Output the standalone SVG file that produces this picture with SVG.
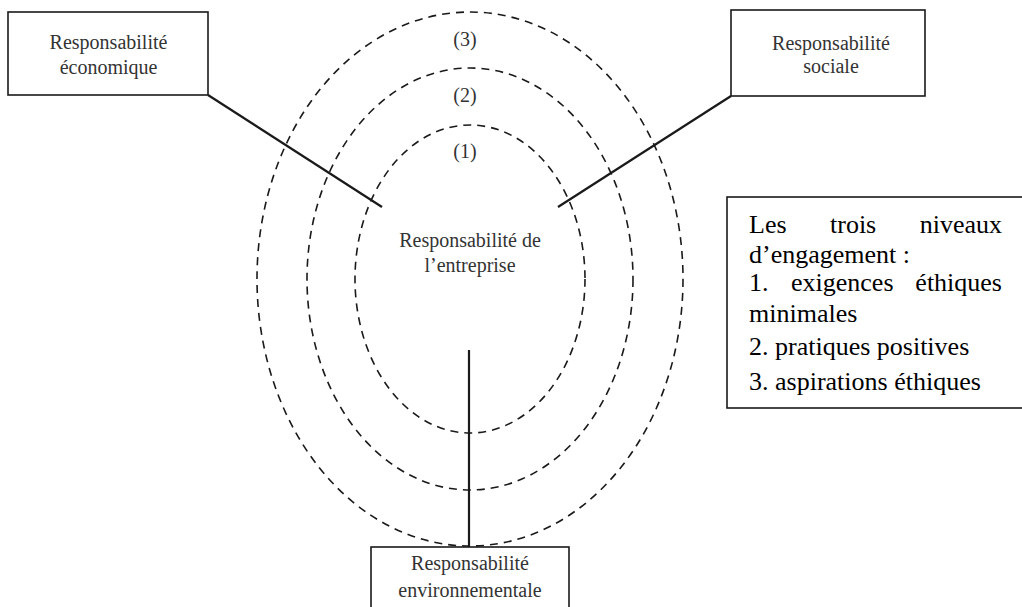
<svg xmlns="http://www.w3.org/2000/svg" width="1022" height="607" viewBox="0 0 1022 607">
  <style>
    .box { fill: #ffffff; stroke: #1a1a1a; stroke-width: 1.6; }
    .ring { fill: none; stroke: #1a1a1a; stroke-width: 1.6; stroke-dasharray: 8 6; }
    .conn { fill: none; stroke: #1a1a1a; stroke-width: 2.2; }
    .lbl { font-family: "Liberation Serif", "DejaVu Serif", serif; font-size: 20px; fill: #333333; text-anchor: middle; }
    .leg { font-family: "Liberation Serif", "Times New Roman", serif; font-size: 26px; fill: #000000; }
  </style>
  <rect width="1022" height="607" fill="#ffffff"/>

  <g id="rings">
    <ellipse class="ring" cx="470" cy="279" rx="213" ry="267"/>
    <ellipse class="ring" cx="470" cy="279" rx="163" ry="211"/>
    <ellipse class="ring" cx="470" cy="279" rx="115" ry="154"/>
    <text class="lbl" x="465" y="46">(3)</text>
    <text class="lbl" x="465" y="102">(2)</text>
    <text class="lbl" x="465" y="158">(1)</text>
  </g>

  <g id="connectors">
    <line class="conn" x1="208" y1="95" x2="382" y2="207"/>
    <line class="conn" x1="731" y1="96" x2="558" y2="207"/>
    <line class="conn" x1="469" y1="350" x2="469" y2="547"/>
  </g>

  <g id="center">
    <text class="lbl" x="470" y="247">Responsabilité de</text>
    <text class="lbl" x="470" y="272">l’entreprise</text>
  </g>

  <g id="economique">
    <rect class="box" x="8" y="12" width="200" height="83"/>
    <text class="lbl" x="108.5" y="49">Responsabilité</text>
    <text class="lbl" x="108.5" y="74">économique</text>
  </g>

  <g id="sociale">
    <rect class="box" x="731" y="10" width="194" height="86"/>
    <text class="lbl" x="831" y="50">Responsabilité</text>
    <text class="lbl" x="831" y="73">sociale</text>
  </g>

  <g id="environnementale">
    <rect class="box" x="371" y="547" width="198" height="70"/>
    <text class="lbl" x="470" y="570">Responsabilité</text>
    <text class="lbl" x="470" y="597">environnementale</text>
  </g>

  <g id="legende">
    <rect class="box" x="727" y="197" width="310" height="211"/>
    <text class="leg" y="233"><tspan x="749">Les</tspan><tspan x="830">trois</tspan><tspan x="1002" text-anchor="end">niveaux</tspan></text>
    <text class="leg" x="749" y="263">d’engagement :</text>
    <text class="leg" y="291"><tspan x="749">1.</tspan><tspan x="791">exigences</tspan><tspan x="1002" text-anchor="end">éthiques</tspan></text>
    <text class="leg" x="749" y="322">minimales</text>
    <text class="leg" x="749" y="355">2. pratiques positives</text>
    <text class="leg" x="749" y="390">3. aspirations éthiques</text>
  </g>
</svg>
